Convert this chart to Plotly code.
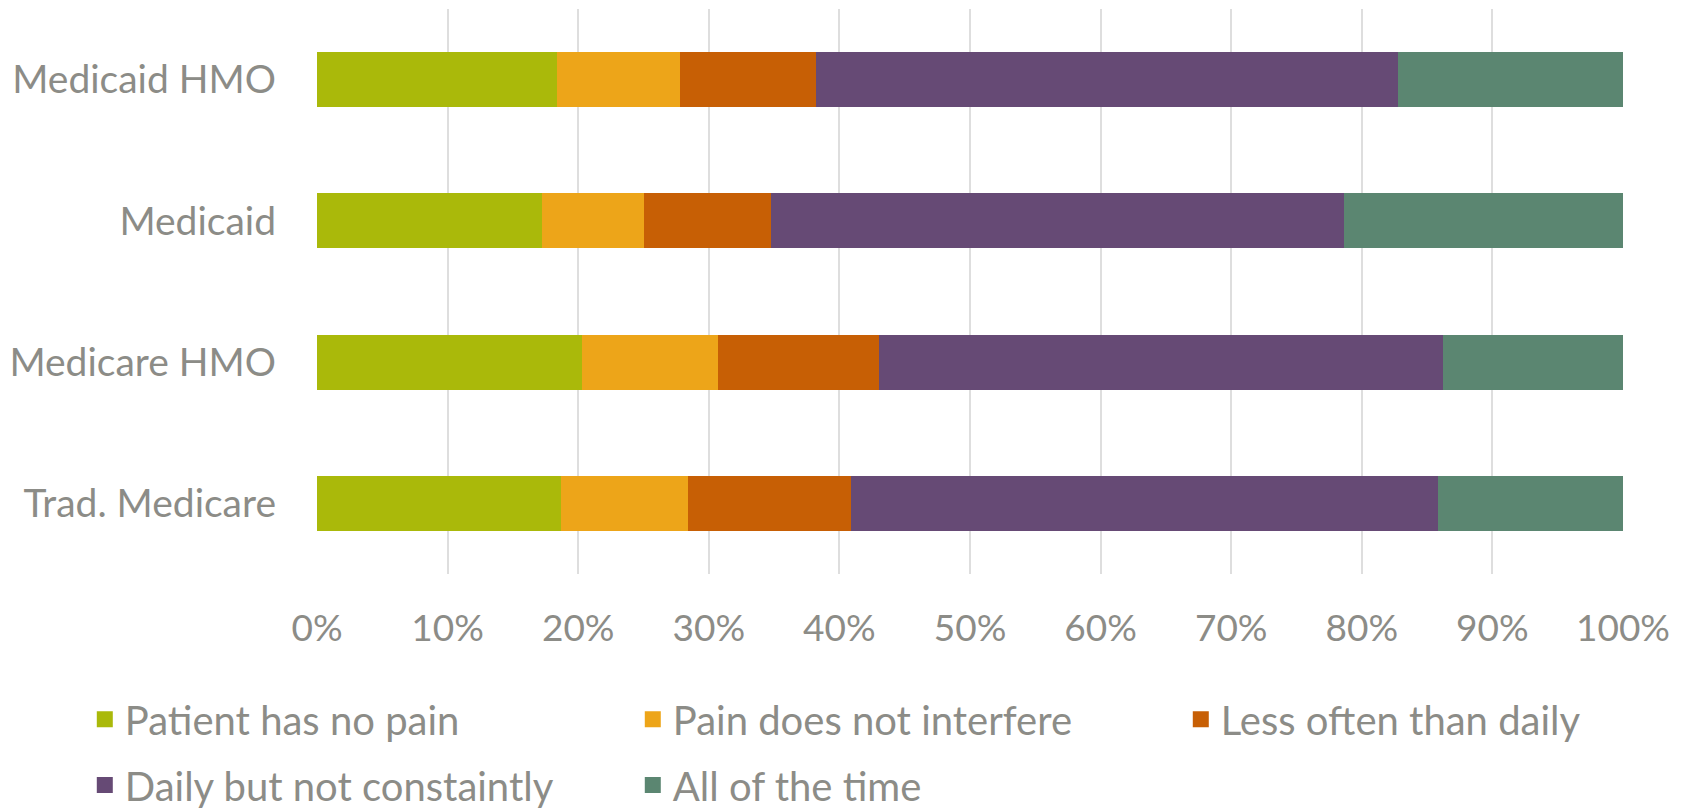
import plotly.graph_objects as go

categories = ["Medicaid HMO", "Medicaid", "Medicare HMO", "Trad. Medicare"]
series_names = ["Patient has no pain", "Pain does not interfere", "Less often than daily",
                "Daily but not constaintly", "All of the time"]
no_pain = [0.184, 0.172, 0.203, 0.187]
not_interfere = [0.094, 0.078, 0.104, 0.097]
less_than_daily = [0.104, 0.098, 0.123, 0.125]
daily_not_const = [0.446, 0.4385, 0.432, 0.449]
all_time = [0.172, 0.2135, 0.138, 0.142]
colors = ["#AAB90A", "#EDA519", "#C75F05", "#664A75", "#5B8671"]
x_ticks = [0, 0.1, 0.2, 0.3, 0.4, 0.5, 0.6, 0.7, 0.8, 0.9, 1.0]

values = [no_pain, not_interfere, less_than_daily, daily_not_const, all_time]
FONT = "Lato"
TXT = "#8C8C87"

# legend slot positions (paper coords): column x, row y
legend_pos = [(-0.1778, -0.2571), (0.2418, -0.2571), (0.6614, -0.2571),
              (-0.1778, -0.3735), (0.2418, -0.3735)]
legend_ids = ["legend", "legend2", "legend3", "legend4", "legend5"]

fig = go.Figure()
for i, (name, vals, col) in enumerate(zip(series_names, values, colors)):
    fig.add_trace(go.Bar(
        y=categories, x=vals, name=name, orientation="h",
        marker=dict(color=col, line=dict(width=0)),
        width=0.39, showlegend=False, hoverinfo="x+name",
    ))
    fig.add_trace(go.Scatter(
        x=[None], y=[None], mode="markers", name=name,
        marker=dict(symbol="square", size=16, color=col),
        legend=legend_ids[i],
    ))

layout_legends = {}
for lid, (lx, ly) in zip(legend_ids, legend_pos):
    layout_legends[lid] = dict(
        orientation="h", x=lx, xanchor="left", y=ly, yanchor="middle",
        font=dict(family=FONT, size=40, color=TXT),
        bgcolor="rgba(0,0,0,0)",
    )

fig.update_layout(
    width=1684, height=808,
    margin=dict(l=309, r=69, t=1, b=242, autoexpand=False),
    barmode="stack",
    plot_bgcolor="white", paper_bgcolor="white",
    font=dict(family=FONT, size=37, color=TXT),
    xaxis=dict(
        range=[0, 1], tickvals=x_ticks, tickformat=".0%",
        showgrid=True, gridcolor="#DEDEDE", gridwidth=2,
        zeroline=False, showline=False, ticks="",
        ticklabelstandoff=29, fixedrange=True, automargin=False,
        tickfont=dict(size=37),
    ),
    yaxis=dict(
        categoryorder="array", categoryarray=categories,
        autorange="reversed", showgrid=False, zeroline=False,
        ticks="", ticklabelstandoff=40, fixedrange=True, automargin=False,
        tickfont=dict(size=39),
    ),
    **layout_legends,
)

fig.write_html("out.html")
